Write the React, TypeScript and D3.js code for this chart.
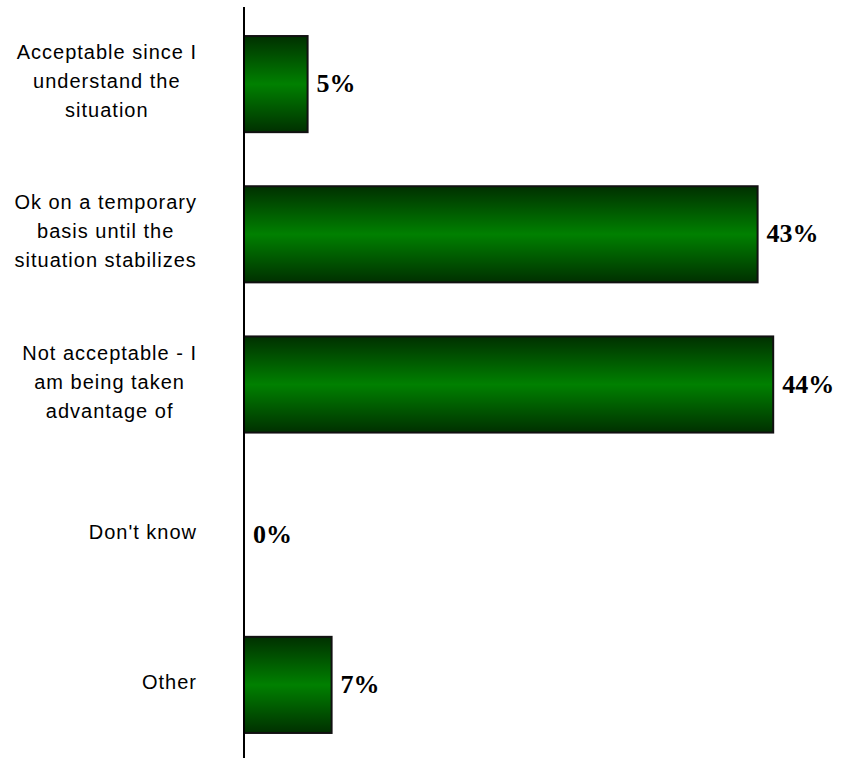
import React from "react";
import * as d3 from "d3";

const categories: string[][] = [
  ["Acceptable since I", "understand the", "situation"],
  ["Ok on a temporary", "basis until the", "situation stabilizes"],
  ["Not acceptable - I", "am being taken", "advantage of"],
  ["Don't know"],
  ["Other"],
];
const values: number[] = [5.3, 42.8, 44.1, 0, 7.3];
const valueLabels: string[] = ["5%", "43%", "44%", "0%", "7%"];

const W = 851;
const H = 758;

export default function App() {
  const keys = categories.map((_, i) => String(i));
  const y = d3.scaleBand<string>().domain(keys).range([9, 760]).paddingInner(0.36).paddingOuter(0.18);
  const x = d3.scaleLinear().domain([0, 50]).range([244, 844]);
  const labelRight = 197;
  const lineH = 29;

  return (
    <svg
      width={W}
      height={H}
      style={{ position: "absolute", left: 0, top: 0, background: "#fff" }}
    >
      <defs>
        <linearGradient id="barGrad" x1="0" y1="0" x2="0" y2="1">
          <stop offset="0%" stopColor="#003000" />
          <stop offset="50%" stopColor="#008000" />
          <stop offset="100%" stopColor="#003000" />
        </linearGradient>
      </defs>
      {values.map((v, i) => {
        const key = keys[i];
        const y0 = y(key)!;
        const bw = y.bandwidth();
        const cy = y0 + bw / 2;
        return (
          <g key={key}>
            {v > 0 && (
              <rect
                x={x(0)}
                y={y0}
                width={x(v) - x(0)}
                height={bw}
                fill="url(#barGrad)"
                stroke="#111"
                strokeWidth={2}
              />
            )}
            <text
              x={x(v) + 9}
              y={cy + 8}
              fontFamily="'Liberation Serif', 'Times New Roman', serif"
              fontWeight="bold"
              fontSize={26}
              fill="#000"
            >
              {valueLabels[i]}
            </text>
          </g>
        );
      })}
      {categories.map((lines, i) => {
        const cy = y(keys[i])! + y.bandwidth() / 2;
        return (
          <LabelBlock key={i} lines={lines} cy={cy} right={labelRight} lineH={lineH} />
        );
      })}
      <line x1={x(0)} x2={x(0)} y1={7} y2={760} stroke="#000" strokeWidth={2} />
    </svg>
  );
}

function LabelBlock({ lines, cy, right, lineH }: { lines: string[]; cy: number; right: number; lineH: number }) {
  const ref = React.useRef<SVGGElement>(null);
  const [widths, setWidths] = React.useState<number[] | null>(null);
  React.useLayoutEffect(() => {
    if (!ref.current) return;
    const ts = Array.from(ref.current.querySelectorAll("text")) as SVGTextElement[];
    setWidths(ts.map((t) => t.getComputedTextLength()));
  }, []);
  const maxW = widths ? Math.max(...widths) : 0;
  const center = right - maxW / 2;
  const n = lines.length;
  return (
    <g ref={ref}>
      {lines.map((l, j) => (
        <text
          key={j}
          x={widths ? center : right}
          y={cy + 4 + (j - (n - 1) / 2) * lineH}
          textAnchor={widths ? "middle" : "end"}
          fontFamily="'Liberation Sans', Arial, sans-serif"
          fontSize={20}
          letterSpacing={1}
          fill="#000"
        >
          {l}
        </text>
      ))}
    </g>
  );
}
